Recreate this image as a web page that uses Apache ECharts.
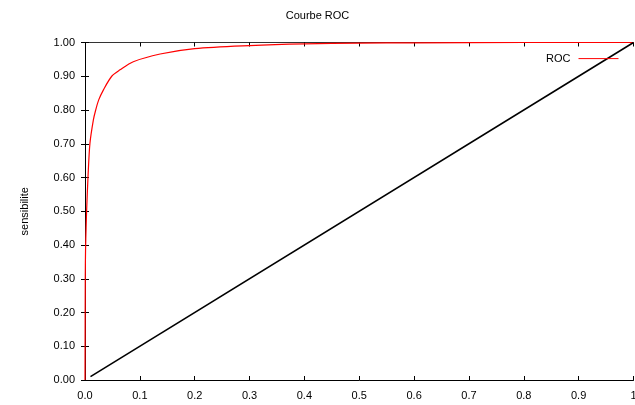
<!DOCTYPE html>
<html>
<head>
<meta charset="utf-8">
<script src="https://cdn.jsdelivr.net/npm/echarts@6/dist/echarts.min.js"></script>
<style>html,body{margin:0;padding:0;background:#fff}#c{width:635px;height:405px}</style>
</head>
<body>
<div id="c"></div>
<script>
const titleText = "Courbe ROC";
const yAxisName = "sensibilite";
const rocName = "ROC";
const rocX = [0, 0.0005, 0.001, 0.002, 0.003, 0.0055, 0.009, 0.0152, 0.0195, 0.025, 0.0334, 0.0487, 0.0639, 0.088, 0.137, 0.2, 0.3, 0.4, 0.5, 0.6, 0.8, 1.0];
const rocY = [0, 0.3, 0.385, 0.45, 0.504, 0.602, 0.701, 0.77, 0.8, 0.83, 0.859, 0.9, 0.919, 0.943, 0.966, 0.982, 0.991, 0.996, 0.998, 0.999, 1, 1];
const diagX = [0.01, 1];
const diagY = [0.01, 1];

const font = "Liberation Sans, Arial, sans-serif";
const chart = echarts.init(document.getElementById('c'), null, {renderer: 'canvas'});
const zip = (a, b) => a.map((v, i) => [v, b[i]]);
const tickStyle = {show: true, inside: true, length: 4, lineStyle: {color: '#000', width: 1}};
chart.setOption({
  animation: false,
  title: {text: titleText, left: 'center', top: 5, textStyle: {fontFamily: font, fontSize: 11, fontWeight: 'normal', color: '#000'}},
  legend: {
    data: [rocName], right: 11, top: 48, itemWidth: 40, itemHeight: 14, align: 'right', itemGap: 6,
    lineStyle: {color: '#ff0000', width: 1},
    itemStyle: {color: 'rgba(0,0,0,0)', borderWidth: 0, borderColor: 'rgba(0,0,0,0)'},
    textStyle: {fontFamily: font, fontSize: 11, color: '#000', padding: [0, 3, 0, 0]}
  },
  grid: {left: 85, right: 1.5, top: 42.5, bottom: 25, outerBoundsMode: 'none', containLabel: false},
  xAxis: [{
    type: 'value', min: 0, max: 1, interval: 0.1, position: 'bottom',
    axisLine: {show: true, onZero: false, lineStyle: {color: '#000', width: 1}},
    axisTick: tickStyle,
    axisLabel: {fontFamily: font, fontSize: 11, color: '#000', margin: 10, formatter: v => v === 1 ? '1' : v.toFixed(1)},
    splitLine: {show: false}
  }, {
    type: 'value', min: 0, max: 1, interval: 0.1, position: 'top',
    axisLine: {show: true, onZero: false, lineStyle: {color: '#333', width: 1}},
    axisTick: tickStyle, axisLabel: {show: false}, splitLine: {show: false}
  }],
  yAxis: [{
    type: 'value', min: 0, max: 1, interval: 0.1, position: 'left',
    name: yAxisName, nameLocation: 'middle', nameGap: 55, nameRotate: 90,
    nameTextStyle: {fontFamily: font, fontSize: 11, color: '#000'},
    axisLine: {show: true, onZero: false, lineStyle: {color: '#000', width: 1}},
    axisTick: tickStyle,
    axisLabel: {fontFamily: font, fontSize: 11, color: '#000', margin: 10, formatter: v => v.toFixed(2)},
    splitLine: {show: false}
  }, {
    type: 'value', min: 0, max: 1, interval: 0.1, position: 'right',
    axisLine: {show: false},
    axisTick: tickStyle, axisLabel: {show: false}, splitLine: {show: false}
  }],
  series: [{
    name: rocName, type: 'line', data: zip(rocX, rocY), smooth: 0.3, symbol: 'none',
    lineStyle: {color: '#ff0000', width: 1.2}, itemStyle: {color: '#ff0000'}
  }, {
    name: 'diag', type: 'line', data: zip(diagX, diagY), symbol: 'none',
    lineStyle: {color: '#000', width: 1.6}, itemStyle: {color: '#000'}
  }]
});
</script>
</body>
</html>
